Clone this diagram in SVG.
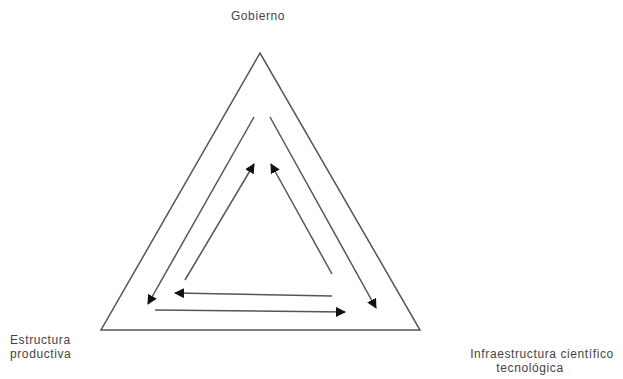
<svg xmlns="http://www.w3.org/2000/svg" width="623" height="379" viewBox="0 0 623 379">
<style>
.l{stroke:#555;stroke-width:1.5;fill:none}
.t{font-family:"Liberation Sans",Arial,sans-serif;font-size:12px;letter-spacing:0.6px;fill:#444}
</style>
<defs>
<marker id="a" viewBox="0 0 10 10" refX="9" refY="5" markerWidth="10" markerHeight="10" markerUnits="userSpaceOnUse" orient="auto">
<path d="M0,0 L10,5 L0,10 z" fill="#111"/>
</marker>
</defs>
<rect width="623" height="379" fill="#fff"/>
<g id="triangle">
<polygon class="l" points="260,53 101,330 420,330"/>
</g>
<g id="gobierno"><text class="t" x="258" y="20" text-anchor="middle">Gobierno</text></g>
<g id="estructura"><text class="t" x="10" y="344">Estructura</text><text class="t" x="10" y="358">productiva</text></g>
<g id="infraestructura"><text class="t" x="542" y="358" text-anchor="middle">Infraestructura científico</text><text class="t" x="530" y="372" text-anchor="middle">tecnológica</text></g>
<g id="connectors">
<line class="l" x1="254" y1="117" x2="148" y2="304" marker-end="url(#a)"/>
<line class="l" x1="270" y1="117" x2="376" y2="308" marker-end="url(#a)"/>
<line class="l" x1="185" y1="280" x2="254" y2="164" marker-end="url(#a)"/>
<line class="l" x1="332" y1="274" x2="271" y2="164" marker-end="url(#a)"/>
<line class="l" x1="332" y1="296" x2="175" y2="293" marker-end="url(#a)"/>
<line class="l" x1="155" y1="310" x2="345" y2="312" marker-end="url(#a)"/>
</g>
</svg>
